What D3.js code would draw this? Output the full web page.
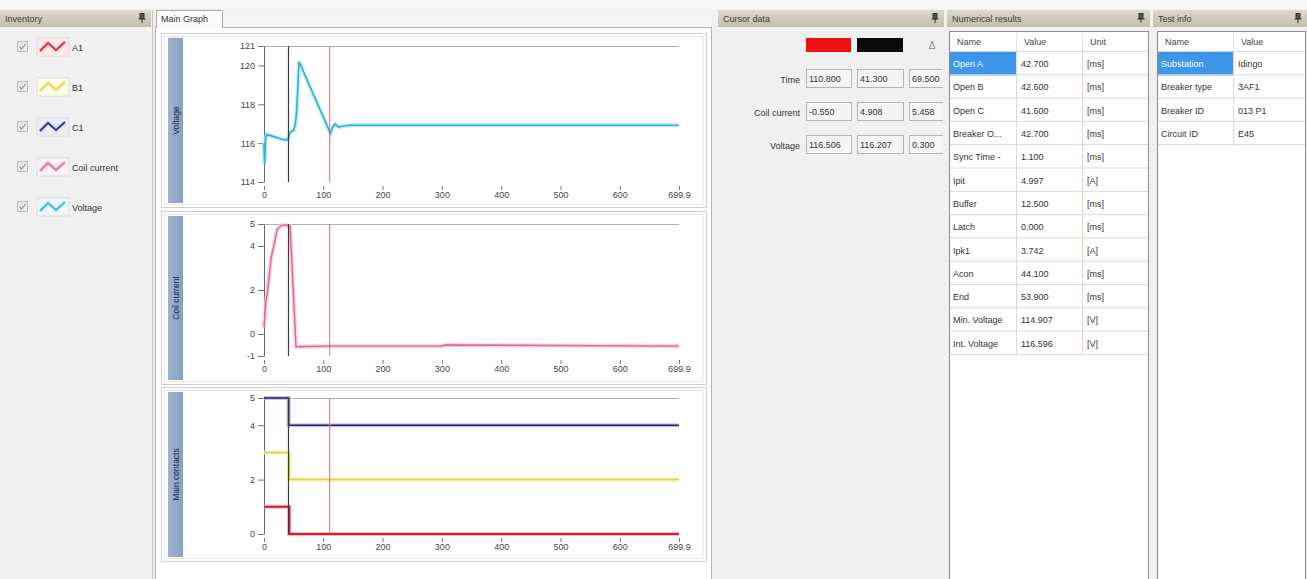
<!DOCTYPE html>
<html>
<head>
<meta charset="utf-8">
<script src="https://cdn.jsdelivr.net/npm/d3@7"></script>
<style>
  body { margin: 0; background: #f0f0f0; overflow: hidden; }
  svg { display: block; font-family: "Liberation Sans", Arial, sans-serif; }
</style>
</head>
<body>
<svg id="app" width="1307" height="579"></svg>
<script>
// ---- data ----
const timeTicks = [0, 100, 200, 300, 400, 500, 600, 699.9];
const timeMax = 699.9;

const voltageTime  = [0, 1, 2.5, 5, 10, 20, 30, 38, 41, 43, 46, 50, 53, 55, 57, 59, 112, 116, 120, 126, 134, 145, 699.9];
const voltageValue = [116.0, 114.9, 116.2, 116.45, 116.4, 116.3, 116.2, 116.15, 116.25, 116.5, 116.6, 116.65, 117.0, 117.6, 118.8, 120.2, 116.5, 116.85, 116.98, 116.82, 116.88, 116.92, 116.92];
const voltageTicks = [114, 116, 118, 120, 121];

const coilTime  = [0, 3, 6, 12, 17, 22, 29, 36, 41.3, 44, 54, 110.8, 300, 305, 699.9];
const coilValue = [0.3, 1.4, 1.95, 3.45, 4.05, 4.75, 4.92, 4.97, 4.908, 4.9, -0.58, -0.55, -0.55, -0.5, -0.55];
const coilTicks = [-1, 0, 2, 4, 5];

const contactTicks = [0, 2, 4, 5];
const a1Time = [0, 42.7, 699.9], a1Value = [1, 0, 0];
const b1Time = [0, 42.6, 699.9], b1Value = [3, 2, 2];
const c1Time = [0, 41.6, 699.9], c1Value = [5, 4, 4];

const redCursor = 110.8, blackCursor = 41.3;

const inventoryNames = ["A1", "B1", "C1", "Coil current", "Voltage"];

const cursorRows  = ["Time", "Coil current", "Voltage"];
const cursorRed   = ["110.800", "-0.550", "116.506"];
const cursorBlack = ["41.300", "4.908", "116.207"];
const cursorDelta = ["69.500", "5.458", "0.300"];

const resultNames  = ["Open A", "Open B", "Open C", "Breaker O...", "Sync Time -", "Ipit", "Buffer", "Latch", "Ipk1", "Acon", "End", "Min. Voltage", "Int. Voltage"];
const resultValues = ["42.700", "42.600", "41.600", "42.700", "1.100", "4.997", "12.500", "0.000", "3.742", "44.100", "53.900", "114.907", "116.596"];
const resultUnits  = ["[ms]", "[ms]", "[ms]", "[ms]", "[ms]", "[A]", "[ms]", "[ms]", "[A]", "[ms]", "[ms]", "[V]", "[V]"];

const infoNames  = ["Substation", "Breaker type", "Breaker ID", "Circuit ID"];
const infoValues = ["Idingo", "3AF1", "013 P1", "E45"];

// ---- styles ----
const seriesColor = {
  "A1": "#cc1f36", "B1": "#e3d23a", "C1": "#22226e",
  "Coil current": "#e0639c", "Voltage": "#2db3cf"
};
const haloColor = {
  "A1": "#f2a8b2", "B1": "#f6efa6", "C1": "#b4b4dc",
  "Coil current": "#f6c2da", "Voltage": "#b0e8f4"
};
const textCol = "#333";

const svg = d3.select("#app");
const defs = svg.append("defs");

const hg = defs.append("linearGradient").attr("id", "hdr")
  .attr("x1", 0).attr("y1", 0).attr("x2", 0).attr("y2", 1);
hg.append("stop").attr("offset", 0).attr("stop-color", "#ddd8cd");
hg.append("stop").attr("offset", 1).attr("stop-color", "#c3bdaf");

const lg = defs.append("linearGradient").attr("id", "lbl")
  .attr("x1", 0).attr("y1", 0).attr("x2", 1).attr("y2", 0);
lg.append("stop").attr("offset", 0).attr("stop-color", "#9db4d0");
lg.append("stop").attr("offset", 1).attr("stop-color", "#86a1c3");

// top strip
svg.append("rect").attr("x", 0).attr("y", 0).attr("width", 1307).attr("height", 9).attr("fill", "#f7f7f7");

function header(x, w, title, pin) {
  svg.append("rect").attr("x", x).attr("y", 10).attr("width", w).attr("height", 17)
    .attr("fill", "url(#hdr)");
  svg.append("text").attr("x", x + 5).attr("y", 22).attr("font-size", 9)
    .attr("fill", "#3a3a3a").text(title);
  if (pin) {
    const px = x + w - 11;
    const p = svg.append("g").attr("stroke", "#333").attr("fill", "none");
    p.append("rect").attr("x", px).attr("y", 13.5).attr("width", 4).attr("height", 5).attr("fill", "#555");
    p.append("line").attr("x1", px - 1.5).attr("x2", px + 5.5).attr("y1", 19).attr("y2", 19);
    p.append("line").attr("x1", px + 2).attr("x2", px + 2).attr("y1", 19).attr("y2", 23);
  }
}

// ---- Inventory ----
header(0, 151, "Inventory", true);
svg.append("line").attr("x1", 152.5).attr("x2", 152.5).attr("y1", 10).attr("y2", 579).attr("stroke", "#c4c4c4");

const inv = svg.append("g").selectAll("g").data(inventoryNames).join("g")
  .attr("transform", (d, i) => `translate(0,${47 + i * 40})`);
inv.append("rect").attr("x", 17.5).attr("y", -5.5).attr("width", 10).attr("height", 10)
  .attr("fill", "#ececec").attr("stroke", "#b8b8b8");
inv.append("path").attr("d", "M19.5,-0.5 L21.5,2 L25.5,-3").attr("fill", "none")
  .attr("stroke", "#8a8a8a").attr("stroke-width", 1.2);
inv.append("rect").attr("x", 37).attr("y", -9).attr("width", 32).attr("height", 18)
  .attr("fill", d => d3.interpolateRgb("#ffffff", haloColor[d])(0.25)).attr("stroke", "#dedede");
inv.append("path").attr("d", "M40,4 L48,-4 L56,3 L65,-5").attr("fill", "none")
  .attr("stroke", d => haloColor[d]).attr("stroke-width", 3.5);
inv.append("path").attr("d", "M40,4 L48,-4 L56,3 L65,-5").attr("fill", "none")
  .attr("stroke", d => seriesColor[d]).attr("stroke-width", 1.4);
inv.append("text").attr("x", 72).attr("y", 3.5).attr("font-size", 9).attr("fill", textCol).text(d => d);

// ---- Main Graph ----
svg.append("rect").attr("x", 222).attr("y", 10).attr("width", 490).attr("height", 18).attr("fill", "#f5f5f5");
svg.append("rect").attr("x", 155.5).attr("y", 27.5).attr("width", 556).attr("height", 552)
  .attr("fill", "#ffffff").attr("stroke", "#b4b4b4");
svg.append("path").attr("d", "M156.5,28 L156.5,10.5 L222.5,10.5 L222.5,28").attr("fill", "#fbfbfb").attr("stroke", "#a8a8a8");
svg.append("rect").attr("x", 157).attr("y", 27).attr("width", 65).attr("height", 2).attr("fill", "#fbfbfb");
svg.append("text").attr("x", 161).attr("y", 22).attr("font-size", 9).attr("fill", textCol).text("Main Graph");

const x = d3.scaleLinear().domain([0, timeMax]).range([264, 679]);

function plot(frame, label, yDomain, yRange, ticks, series) {
  const [fy0, fy1] = frame;
  svg.append("rect").attr("x", 161.5).attr("y", fy0 + 0.5).attr("width", 545).attr("height", fy1 - fy0)
    .attr("fill", "#fff").attr("stroke", "#cfcfcf");
  svg.append("rect").attr("x", 164.5).attr("y", fy0 + 3.5).attr("width", 539).attr("height", fy1 - fy0 - 6)
    .attr("fill", "none").attr("stroke", "#e6e6e6");
  svg.append("rect").attr("x", 168).attr("y", fy0 + 5).attr("width", 15).attr("height", fy1 - fy0 - 9)
    .attr("fill", "url(#lbl)");
  const cy = (fy0 + 5 + fy1 - 4) / 2;
  svg.append("text").attr("transform", `translate(179,${cy}) rotate(-90)`)
    .attr("text-anchor", "middle").attr("font-size", 8.5).attr("fill", "#1d2b4c").text(label);

  const y = d3.scaleLinear().domain(yDomain).range(yRange);
  const top = yRange[1], bottom = yRange[0];

  // top frame line
  svg.append("line").attr("x1", x(0)).attr("x2", x(timeMax)).attr("y1", top + 0.5).attr("y2", top + 0.5)
    .attr("stroke", "#b0b0b0");

  const yAxis = svg.append("g").attr("transform", `translate(${x(0)},0)`)
    .call(d3.axisLeft(y).tickValues(ticks).tickSize(6).tickSizeOuter(0).tickPadding(3)
      .tickFormat(d => String(d)));
  yAxis.select(".domain").attr("stroke", "#666");
  yAxis.selectAll(".tick line").attr("stroke", "#777");
  yAxis.selectAll("text").attr("font-size", 9).attr("fill", "#444")
    .attr("font-family", "'Liberation Sans', Arial, sans-serif");

  const xAxis = svg.append("g").attr("transform", `translate(0,${bottom + 4})`)
    .call(d3.axisBottom(x).tickValues(timeTicks).tickSize(4).tickPadding(2)
      .tickFormat(d => d === timeMax ? "699.9" : String(d)));
  xAxis.select(".domain").remove();
  xAxis.selectAll(".tick line").attr("stroke", "#777");
  xAxis.selectAll("text").attr("font-size", 9).attr("fill", "#444")
    .attr("font-family", "'Liberation Sans', Arial, sans-serif");

  const line = d3.line().x(d => x(d[0])).y(d => y(d[1]));
  const gl = svg.append("g");
  series.forEach(s => {
    const pts = d3.zip(s.t, s.v);
    const ln = s.step ? line.curve(d3.curveStepAfter) : line.curve(d3.curveLinear);
    gl.append("path").attr("d", ln(pts)).attr("fill", "none")
      .attr("stroke", haloColor[s.name]).attr("stroke-width", 4).attr("opacity", 0.8);
    gl.append("path").attr("d", ln(pts)).attr("fill", "none")
      .attr("stroke", seriesColor[s.name]).attr("stroke-width", s.width || 1.5);
  });

  // cursors
  svg.append("line").attr("x1", x(blackCursor)).attr("x2", x(blackCursor))
    .attr("y1", top).attr("y2", bottom).attr("stroke", "#3a3a3a").attr("stroke-width", 1.2);
  svg.append("line").attr("x1", x(redCursor)).attr("x2", x(redCursor))
    .attr("y1", top).attr("y2", bottom).attr("stroke", "#e06a6a").attr("stroke-width", 1);
}

plot([33, 207], "Voltage", [114, 121], [182, 46], voltageTicks,
  [{ name: "Voltage", t: voltageTime, v: voltageValue, width: 1.6 }]);
plot([211, 384], "Coil current", [-1, 5], [356, 224], coilTicks,
  [{ name: "Coil current", t: coilTime, v: coilValue, width: 1.4 }]);
plot([387, 561], "Main contacts", [0, 5], [534, 398], contactTicks, [
  { name: "B1", t: b1Time, v: b1Value, step: true, width: 1.5 },
  { name: "C1", t: c1Time, v: c1Value, step: true, width: 1.6 },
  { name: "A1", t: a1Time, v: a1Value, step: true, width: 2 }
]);

// ---- Cursor data ----
header(718, 226, "Cursor data", true);
svg.append("rect").attr("x", 806).attr("y", 38).attr("width", 45).attr("height", 14).attr("fill", "#ee1111");
svg.append("rect").attr("x", 857).attr("y", 38).attr("width", 46).attr("height", 14).attr("fill", "#0a0a0a");
svg.append("text").attr("x", 932).attr("y", 49).attr("text-anchor", "middle").attr("font-size", 10)
  .attr("fill", "#888").text("Δ");

const cursorClip = defs.append("clipPath").attr("id", "cclip");
cursorClip.append("rect").attr("x", 718).attr("y", 27).attr("width", 225).attr("height", 552);

const cg = svg.append("g").attr("clip-path", "url(#cclip)");
const crow = cg.selectAll("g").data(cursorRows).join("g")
  .attr("transform", (d, i) => `translate(0,${79 + i * 33})`);
crow.append("text").attr("x", 800).attr("y", 3.5).attr("text-anchor", "end").attr("font-size", 9)
  .attr("fill", textCol).text(d => d);
[[806, 45, cursorRed], [857, 46, cursorBlack], [909, 46, cursorDelta]].forEach(([bx, bw, vals]) => {
  crow.append("rect").attr("x", bx + 0.5).attr("y", -9.5).attr("width", bw).attr("height", 18)
    .attr("fill", "#f4f4f4").attr("stroke", "#b4b4b4");
  crow.append("text").attr("x", bx + 3).attr("y", 3).attr("font-size", 9).attr("fill", textCol)
    .text((d, i) => vals[i]);
});

// ---- tables ----
function table(x0, cols, rowsData, headers) {
  const right = cols[cols.length - 1];
  svg.append("rect").attr("x", x0 + 0.5).attr("y", 31.5).attr("width", right - x0 - 1).attr("height", 548)
    .attr("fill", "#fff").attr("stroke", "#8c8c8c");
  const rowH = 23.3, y0 = 52;
  headers.forEach((h, j) => {
    svg.append("text").attr("x", cols[j] + 8).attr("y", 45).attr("font-size", 9).attr("fill", "#444").text(h);
    if (j > 0) svg.append("line").attr("x1", cols[j] + 0.5).attr("x2", cols[j] + 0.5)
      .attr("y1", 33).attr("y2", 51).attr("stroke", "#e2e2e2");
  });
  svg.append("line").attr("x1", x0 + 1).attr("x2", right - 1).attr("y1", y0 - 0.5).attr("y2", y0 - 0.5)
    .attr("stroke", "#d6d6d6");
  const n = rowsData[0].length;
  const rows = svg.append("g").selectAll("g").data(d3.range(n)).join("g")
    .attr("transform", i => `translate(0,${y0 + i * rowH})`);
  rows.filter(i => i === 0).append("rect").attr("x", x0 + 1).attr("y", 0)
    .attr("width", cols[1] - x0 - 1).attr("height", rowH).attr("fill", "#3d96ea");
  rows.append("line").attr("x1", x0 + 1).attr("x2", right - 1).attr("y1", rowH - 0.5).attr("y2", rowH - 0.5)
    .attr("stroke", "#d9d9d9");
  cols.slice(1, -1).forEach(cx => {
    rows.append("line").attr("x1", cx + 0.5).attr("x2", cx + 0.5).attr("y1", 0).attr("y2", rowH)
      .attr("stroke", "#d9d9d9");
  });
  rowsData.forEach((vals, j) => {
    rows.append("text").attr("x", cols[j] + (j === 0 ? 4 : 5)).attr("y", rowH / 2 + 3.5)
      .attr("font-size", 9).attr("fill", i => (j === 0 && i === 0) ? "#fff" : textCol)
      .text(i => vals[i]);
  });
}

header(947, 203, "Numerical results", true);
table(949, [949, 1016, 1082, 1149], [resultNames, resultValues, resultUnits], ["Name", "Value", "Unit"]);

header(1153, 154, "Test info", true);
table(1157, [1157, 1233, 1306], [infoNames, infoValues], ["Name", "Value"]);
</script>
</body>
</html>
